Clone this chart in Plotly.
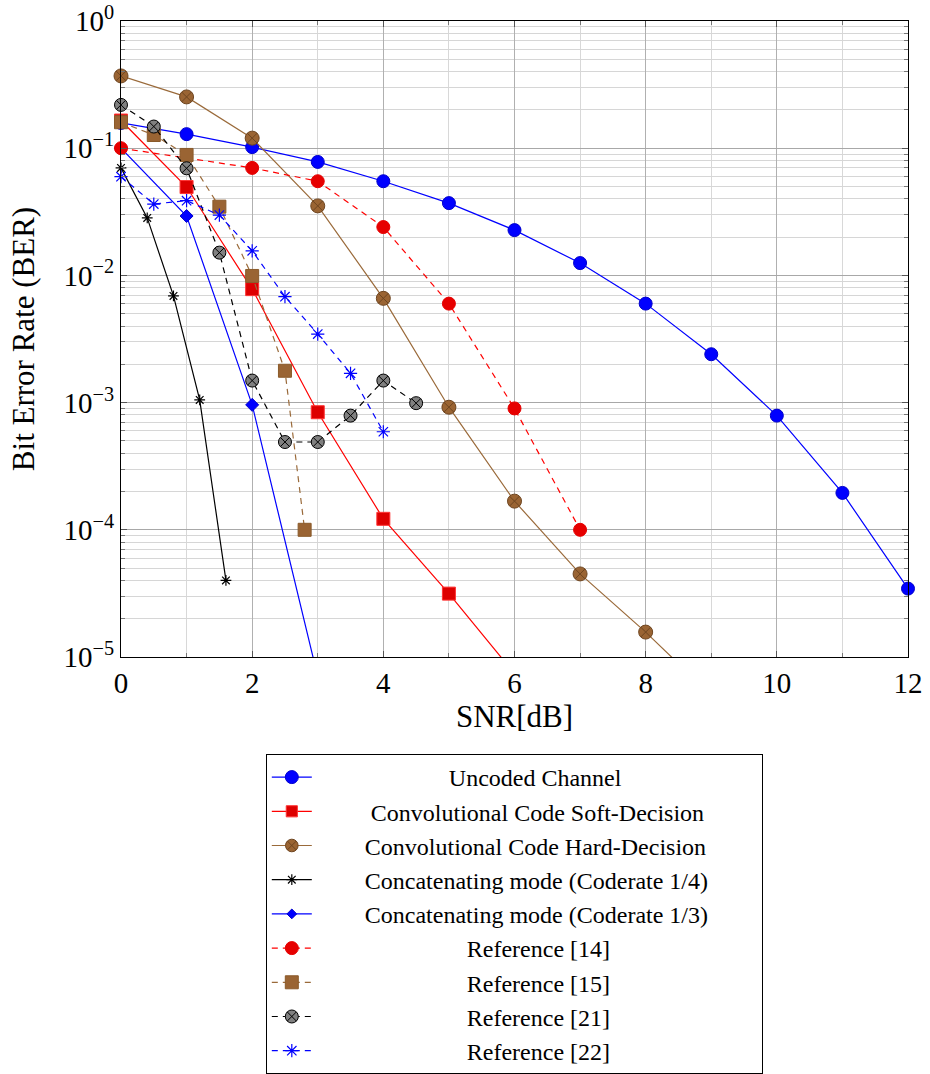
import plotly.graph_objects as go

NB = "\u00a0"

# ---------------- data ----------------
snr_uncoded = [0, 1, 2, 3, 4, 5, 6, 7, 8, 9, 10, 11, 12]
ber_uncoded = [0.158, 0.129, 0.102, 0.078, 0.055, 0.037, 0.0227, 0.0125, 0.0060, 0.0024, 0.00079, 0.000195, 3.45e-5]

snr_soft = [0, 1, 2, 3, 4, 5, 6]
ber_soft = [0.165, 0.0495, 0.0078, 0.00084, 0.000122, 3.15e-5, 7.4e-6]

snr_hard = [0, 1, 2, 3, 4, 5, 6, 7, 8, 9]
ber_hard = [0.37, 0.253, 0.12, 0.0352, 0.0066, 0.00092, 0.000168, 4.5e-5, 1.57e-5, 5.0e-6]

snr_c14 = [0, 0.4, 0.8, 1.2, 1.6]
ber_c14 = [0.07, 0.0283, 0.0069, 0.00105, 4.0e-5]

snr_c13 = [0, 1, 2, 3]
ber_c13 = [0.1, 0.0293, 0.00096, 7.0e-6]

snr_r14 = [0, 2, 3, 4, 5, 6, 7]
ber_r14 = [0.1, 0.07, 0.055, 0.024, 0.006, 0.0009, 0.0001]

snr_r15 = [0, 0.5, 1, 1.5, 2, 2.5, 2.8]
ber_r15 = [0.16, 0.127, 0.0885, 0.0347, 0.0099, 0.00178, 0.0001]

snr_r21 = [0, 0.5, 1, 1.5, 2, 2.5, 3, 3.5, 4, 4.5]
ber_r21 = [0.219, 0.148, 0.0695, 0.0151, 0.00149, 0.00049, 0.00049, 0.00079, 0.00149, 0.00099]

snr_r22 = [0, 0.5, 1, 1.5, 2, 2.5, 3, 3.5, 4]
ber_r22 = [0.0597, 0.0364, 0.0387, 0.0298, 0.0156, 0.0068, 0.00346, 0.0017, 0.00059]

names = [
    "Uncoded Channel",
    "Convolutional Code Soft-Decision",
    "Convolutional Code Hard-Decision",
    "Concatenating mode (Coderate 1/4)",
    "Concatenating mode (Coderate 1/3)",
    "Reference [14]",
    "Reference [15]",
    "Reference [21]",
    "Reference [22]",
]
# no-break-space padding (left, right) to approximate centred legend text
pads_left = [22, 9, 8, 8, 8, 25, 25, 25, 25]
pads_right = [0, 0, 0, 8, 8, 0, 0, 0, 0]

y_tickvals = [1, 0.1, 0.01, 0.001, 0.0001, 0.00001]
y_ticktext = ["10<sup>0</sup>", "10<sup>\u22121</sup>", "10<sup>\u22122</sup>",
              "10<sup>\u22123</sup>", "10<sup>\u22124</sup>", "10<sup>\u22125</sup>"]

BLUE = "#0000ff"
RED = "#ff0000"
BROWN = "#9a6a3a"
BROWN_FILL = "#9a6433"

series = [
    (snr_uncoded, ber_uncoded, BLUE, "solid", "circle", 13, BLUE, "#0000cc"),
    (snr_soft, ber_soft, RED, "solid", "square", 13, "#dd0000", "#ff3333"),
    (snr_hard, ber_hard, BROWN, "solid", "circle-x", 14, BROWN_FILL, "#6e4520"),
    (snr_c14, ber_c14, "#000000", "solid", "asterisk-open", 9, "#000000", "#000000"),
    (snr_c13, ber_c13, BLUE, "solid", "diamond", 10, BLUE, "#0000cc"),
    (snr_r14, ber_r14, RED, "6px,5px", "circle", 13, "#e60000", "#e60000"),
    (snr_r15, ber_r15, BROWN, "6px,5px", "square", 13, BROWN_FILL, "#8a5a2a"),
    (snr_r21, ber_r21, "#000000", "6px,5px", "circle-x", 13, "#808080", "#000000"),
    (snr_r22, ber_r22, BLUE, "6px,5px", "asterisk-open", 11, BLUE, BLUE),
]

fig = go.Figure()
for i, (xs, ys, lc, dash, sym, sz, mfill, mline) in enumerate(series):
    sizes = [sz if y >= 1e-5 else 0 for y in ys]
    open_sym = sym.endswith("-open")
    fig.add_trace(go.Scatter(
        x=xs, y=ys, mode="lines+markers",
        name=NB * pads_left[i] + names[i] + NB * pads_right[i],
        line=dict(color=lc, width=1.2, dash=dash),
        marker=dict(symbol=sym, size=sizes, color=mfill, opacity=1,
                    line=dict(color=mline if not open_sym else mfill, width=1.2 if open_sym else 1)),
        cliponaxis=False,
    ))

FONT = "Liberation Serif"

fig.update_layout(
    width=930, height=1074,
    margin=dict(l=121, r=22, t=21, b=417, autoexpand=False),
    paper_bgcolor="white", plot_bgcolor="white",
    font=dict(family=FONT, size=29, color="black"),
    showlegend=True,
    legend=dict(
        x=0.184, y=-0.1525, xanchor="left", yanchor="top",
        bordercolor="#000000", borderwidth=1, bgcolor="white",
        font=dict(family=FONT, size=24, color="black"),
        tracegroupgap=0, itemwidth=40,
    ),
)

fig.update_xaxes(
    range=[0, 12], dtick=2, tick0=0, automargin=False,
    showline=True, linecolor="black", linewidth=1.2, mirror="allticks",
    ticks="inside", ticklen=6, tickcolor="#555555",
    showgrid=True, gridcolor="#b0b0b0", gridwidth=1,
    zeroline=False,
    minor=dict(dtick=1, showgrid=True, gridcolor="#d8d8d8", ticks="inside", ticklen=4, tickcolor="#777777"),
    tickfont=dict(family=FONT, size=29),
    title=dict(text="SNR[dB]", font=dict(family=FONT, size=31), standoff=6),
)

fig.update_yaxes(
    type="log", range=[-5, 0], automargin=False,
    tickvals=y_tickvals, ticktext=y_ticktext,
    showline=True, linecolor="black", linewidth=1.2, mirror="allticks",
    ticks="inside", ticklen=6, tickcolor="#555555",
    showgrid=True, gridcolor="#a8a8a8", gridwidth=1,
    zeroline=False,
    minor=dict(dtick="D1", showgrid=True, gridcolor="#d6d6d6", ticks="inside", ticklen=4, tickcolor="#777777"),
    tickfont=dict(family=FONT, size=29),
    title=dict(text="Bit Error Rate (BER)", font=dict(family=FONT, size=31), standoff=19),
)

fig.write_html("out.html")
